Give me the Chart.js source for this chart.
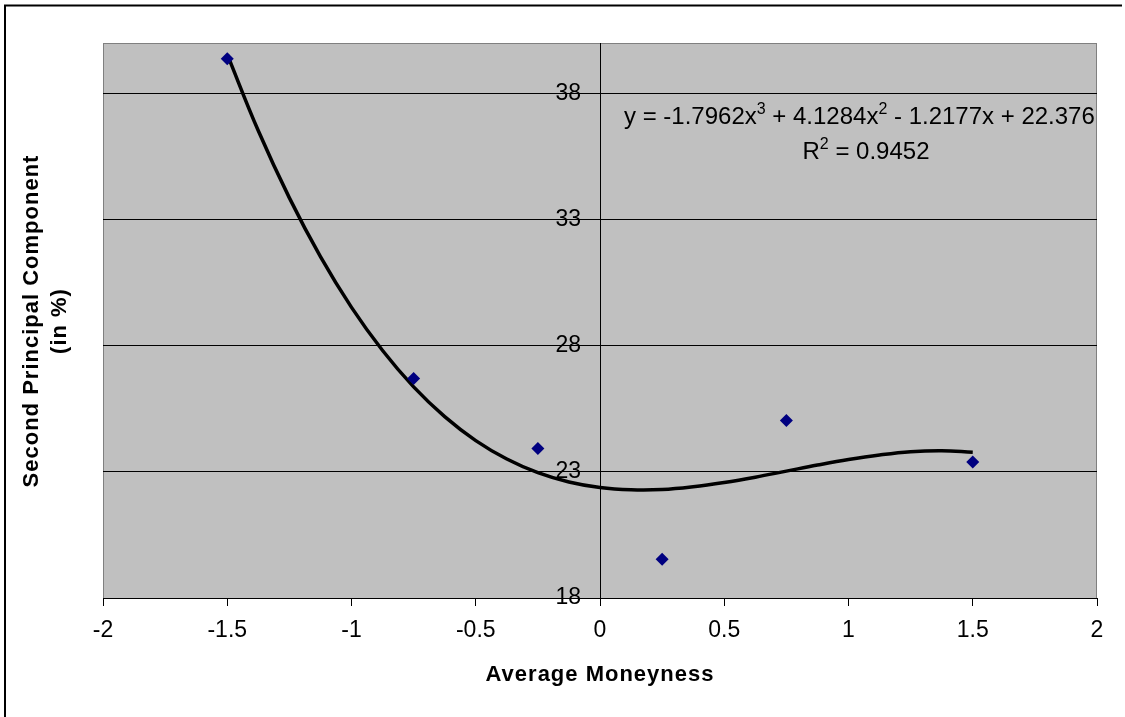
<!DOCTYPE html>
<html>
<head>
<meta charset="utf-8">
<script src="https://cdn.jsdelivr.net/npm/chart.js@4/dist/chart.umd.min.js"></script>
<style>
  html, body { margin: 0; padding: 0; background: #fff; }
  #wrap { width: 1125px; height: 717px; position: relative; }
</style>
</head>
<body>
<div id="wrap"><canvas id="pcaChart" width="1125" height="717"></canvas></div>
<script>
// observed points
const moneyness = [-1.5, -0.75, -0.25, 0.25, 0.75, 1.5];
const secondPC = [39.38, 26.7, 23.93, 19.54, 25.04, 23.39];

// polynomial trendline
const trendX = [-1.5, -1.375, -1.25, -1.125, -1, -0.875, -0.75, -0.625, -0.5, -0.375, -0.25, -0.125,
  0, 0.125, 0.25, 0.375, 0.5, 0.625, 0.75, 0.875, 1, 1.125, 1.25, 1.375, 1.5];
const trendY = [39.55, 36.52, 33.86, 31.53, 29.52, 27.81, 26.37, 25.19, 24.24, 23.51, 22.97, 22.6,
  22.38, 22.29, 22.3, 22.41, 22.58, 22.79, 23.03, 23.27, 23.49, 23.67, 23.8, 23.84, 23.78];

const xTicks = [-2, -1.5, -1, -0.5, 0, 0.5, 1, 1.5, 2];
const yTicks = [18, 23, 28, 33, 38];

const eqParts = [
  ["y = -1.7962x", false], ["3", true], [" + 4.1284x", false], ["2", true],
  [" - 1.2177x + 22.376", false]
];
const r2Parts = [["R", false], ["2", true], [" = 0.9452", false]];

const FONT = "'Liberation Sans', Arial, sans-serif";

const chartDecor = {
  id: "chartDecor",
  beforeDraw(chart) {
    const { ctx, chartArea: a } = chart;
    ctx.save();
    ctx.fillStyle = "#c0c0c0";
    ctx.fillRect(a.left, a.top, a.right - a.left, a.bottom - a.top);
    ctx.strokeStyle = "#808080";
    ctx.lineWidth = 1;
    ctx.strokeRect(a.left + 0.5, a.top + 0.5, a.right - a.left - 1, a.bottom - a.top);
    ctx.restore();
  },
  afterDraw(chart) {
    const { ctx } = chart;
    ctx.save();
    // outer frame (left + top visible)
    ctx.strokeStyle = "#000";
    ctx.lineWidth = 2;
    ctx.beginPath();
    ctx.moveTo(5, 717);
    ctx.lineTo(5, 5.5);
    ctx.lineTo(1122, 5.5);
    ctx.stroke();

    // axis titles
    ctx.fillStyle = "#000";
    ctx.font = "bold 22px " + FONT;
    ctx.letterSpacing = "1px";
    ctx.textAlign = "center";
    ctx.textBaseline = "middle";
    ctx.fillText("Average Moneyness", 600, 675);
    ctx.save();
    ctx.translate(32, 321);
    ctx.rotate(-Math.PI / 2);
    ctx.fillText("Second Principal Component", 0, 0);
    ctx.fillText("(in %)", 0, 28);
    ctx.restore();
    ctx.letterSpacing = "0px";

    // trendline label
    drawRich(ctx, eqParts, 624, 124, "left");
    drawRich(ctx, r2Parts, 866, 159, "center");
    ctx.restore();
  }
};

function drawRich(ctx, parts, x, y, align) {
  ctx.textBaseline = "alphabetic";
  ctx.textAlign = "left";
  const normal = "24px " + FONT;
  const sup = "16px " + FONT;
  let w = 0;
  parts.forEach(([t, s]) => { ctx.font = s ? sup : normal; w += ctx.measureText(t).width; });
  let cx = align === "center" ? x - w / 2 : x;
  parts.forEach(([t, s]) => {
    ctx.font = s ? sup : normal;
    ctx.fillText(t, cx, s ? y - 10 : y);
    cx += ctx.measureText(t).width;
  });
}

new Chart(document.getElementById("pcaChart"), {
  type: "scatter",
  data: {
    datasets: [
      {
        label: "Trend",
        data: trendX.map((x, i) => ({ x, y: trendY[i] })),
        showLine: true,
        borderColor: "#000",
        borderWidth: 3.5,
        pointRadius: 0,
        tension: 0.4,
        order: 2
      },
      {
        label: "Second PC",
        data: moneyness.map((x, i) => ({ x, y: secondPC[i] })),
        backgroundColor: "#000080",
        borderColor: "#000080",
        pointStyle: "rectRot",
        pointRadius: 6.5,
        borderWidth: 0,
        order: 1
      }
    ]
  },
  options: {
    responsive: false,
    animation: false,
    layout: { padding: { left: 103, right: 28, top: 43, bottom: 0 } },
    plugins: {
      legend: { display: false },
      tooltip: { enabled: false }
    },
    scales: {
      x: {
        type: "linear",
        min: -2,
        max: 2,
        afterFit(scale) { scale.height = 119; },
        afterBuildTicks(scale) { scale.ticks = xTicks.map(v => ({ value: v })); },
        border: { color: "#000", width: 1 },
        grid: { drawOnChartArea: false, drawTicks: true, tickLength: 8, tickColor: "#000" },
        ticks: {
          color: "#000",
          font: { family: FONT, size: 23 },
          padding: 11,
          maxRotation: 0,
          callback: v => String(v)
        }
      },
      y: {
        type: "linear",
        min: 18,
        max: 40,
        position: { x: 0 },
        afterBuildTicks(scale) { scale.ticks = yTicks.map(v => ({ value: v })); },
        afterUpdate(scale) {
          // labels sit left of the crossing axis, past the tick marks
          const base = Object.getPrototypeOf(scale)._computeLabelItems;
          scale._computeLabelItems = function (area) {
            const items = base.call(this, area);
            items.forEach(it => { it.options.translation[0] -= 19; });
            return items;
          };
        },
        border: { color: "#000", width: 1 },
        grid: { color: "#000", lineWidth: 1, tickLength: 8, tickColor: "#000" },
        ticks: {
          color: "#000",
          font: { family: FONT, size: 23 },
          padding: 10
        }
      }
    }
  },
  plugins: [chartDecor]
});
</script>
</body>
</html>
